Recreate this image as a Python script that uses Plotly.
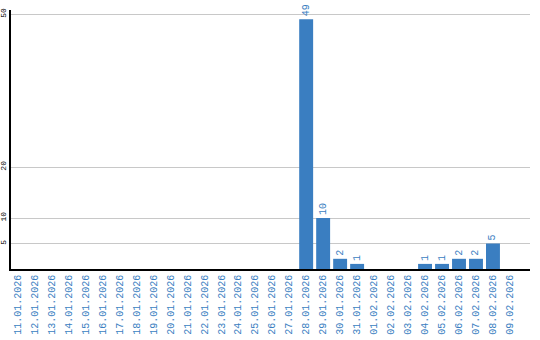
import plotly.graph_objects as go

dates = ["11.01.2026","12.01.2026","13.01.2026","14.01.2026","15.01.2026","16.01.2026",
         "17.01.2026","18.01.2026","19.01.2026","20.01.2026","21.01.2026","22.01.2026",
         "23.01.2026","24.01.2026","25.01.2026","26.01.2026","27.01.2026","28.01.2026",
         "29.01.2026","30.01.2026","31.01.2026","01.02.2026","02.02.2026","03.02.2026",
         "04.02.2026","05.02.2026","06.02.2026","07.02.2026","08.02.2026","09.02.2026"]
values = [0,0,0,0,0,0,0,0,0,0,0,0,0,0,0,0,0,49,10,2,1,0,0,0,1,1,2,2,5,0]
y_ticks = [5, 10, 20, 50]

BLUE = "#3a7ec1"
labels = [str(v) if v > 0 else "" for v in values]

fig = go.Figure(go.Bar(
    x=list(range(len(dates))), y=values, text=labels,
    textposition="outside", textangle=-90, cliponaxis=False,
    textfont=dict(family="Liberation Mono", size=10, color=BLUE),
    marker=dict(color=BLUE, line=dict(width=0)),
    hoverinfo="skip",
))

fig.update_layout(
    width=540, height=340,
    margin=dict(l=11, r=10, t=10, b=71),
    paper_bgcolor="white", plot_bgcolor="white",
    bargap=0.18, showlegend=False,
    xaxis=dict(
        tickmode="array", tickvals=list(range(len(dates))), ticktext=dates,
        range=[-0.38, 30.18], tickangle=-90, automargin=False,
        tickfont=dict(family="Liberation Mono", size=10, color=BLUE),
        showline=True, linecolor="black", linewidth=1.5,
        showgrid=False, ticks="", zeroline=False,
    ),
    yaxis=dict(
        tickmode="array", tickvals=y_ticks, ticktext=[str(t) for t in y_ticks],
        range=[0, 50.8], tickangle=-90, automargin=False,
        tickfont=dict(family="Liberation Mono", size=8, color="black"),
        showline=True, linecolor="black", linewidth=1.5,
        showgrid=True, gridcolor="#c8c8c8", gridwidth=1,
        ticks="", zeroline=False,
    ),
)

fig.write_html("out.html")
